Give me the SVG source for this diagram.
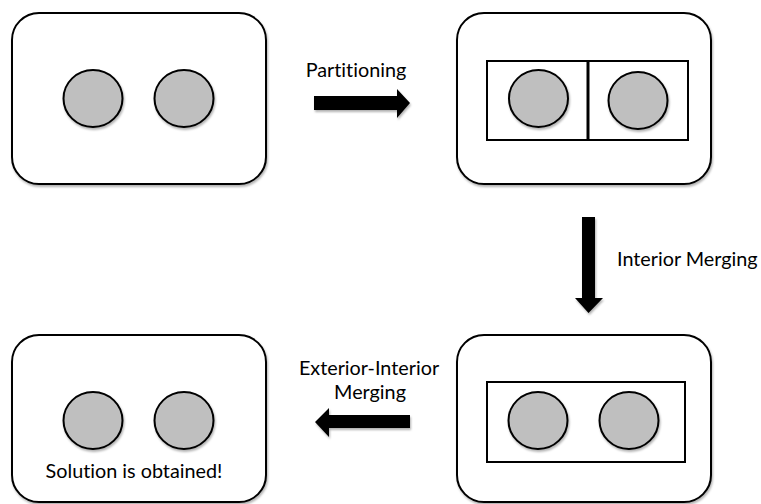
<svg xmlns="http://www.w3.org/2000/svg" width="761" height="504" viewBox="0 0 761 504">
<defs>
<filter id="sh" x="-10%" y="-10%" width="130%" height="130%">
<feDropShadow dx="1" dy="2" stdDeviation="1.2" flood-color="#000" flood-opacity="0.3"/>
</filter>
<style>
.box{fill:#fff;stroke:#000;stroke-width:2;filter:url(#sh)}
.inner{fill:none;stroke:#000;stroke-width:2}
.c{fill:#bfbfbf;stroke:#000;stroke-width:2;filter:url(#sh)}
.t{font-family:Lato,"Open Sans",sans-serif;font-size:19.8px;fill:#000;font-variant-ligatures:none;font-feature-settings:"liga" 0}
.arr{fill:#000}
</style>
</defs>
<g id="state1">
<rect class="box" x="12" y="13" width="254" height="171" rx="27"/>
<ellipse class="c" cx="93" cy="98.5" rx="29.5" ry="28.5"/>
<ellipse class="c" cx="184" cy="98.5" rx="29.5" ry="28.5"/>
</g>
<g id="state2">
<rect class="box" x="457" y="13" width="254" height="171" rx="27"/>
<rect class="inner" x="487" y="61" width="201" height="79"/>
<line x1="588" y1="61" x2="588" y2="140" stroke="#000" stroke-width="3"/>
<ellipse class="c" cx="538.5" cy="98.5" rx="29.5" ry="28.5"/>
<ellipse class="c" cx="638" cy="100.5" rx="29.5" ry="28.5"/>
</g>
<g id="state3">
<rect class="box" x="457" y="335" width="254" height="167" rx="27"/>
<rect class="inner" x="487" y="382" width="198" height="80"/>
<ellipse class="c" cx="538" cy="420.5" rx="29.5" ry="28.5"/>
<ellipse class="c" cx="629" cy="420.5" rx="29.5" ry="28.5"/>
</g>
<g id="state4">
<rect class="box" x="12" y="335" width="254" height="167" rx="27"/>
<ellipse class="c" cx="93" cy="420.5" rx="29.5" ry="28.5"/>
<ellipse class="c" cx="184" cy="420.5" rx="29.5" ry="28.5"/>
<text class="t" x="134" y="478" text-anchor="middle">Solution is obtained!</text>
</g>
<g id="connectors">
<polygon class="arr" filter="url(#sh)" points="314,96 397,96 397,89 410,103 397,118 397,110 314,110"/>
<text class="t" x="356" y="77" text-anchor="middle">Partitioning</text>
<polygon class="arr" filter="url(#sh)" points="582,217 595,217 595,298 603,298 588.5,313 575,298 582,298"/>
<text class="t" x="617" y="266">Interior Merging</text>
<polygon class="arr" filter="url(#sh)" points="410,415 329,415 329,408 315,422 329,437 329,428 410,428"/>
<text class="t" x="369" y="375" text-anchor="middle">Exterior-Interior</text>
<text class="t" x="370" y="399" text-anchor="middle">Merging</text>
</g>
</svg>
